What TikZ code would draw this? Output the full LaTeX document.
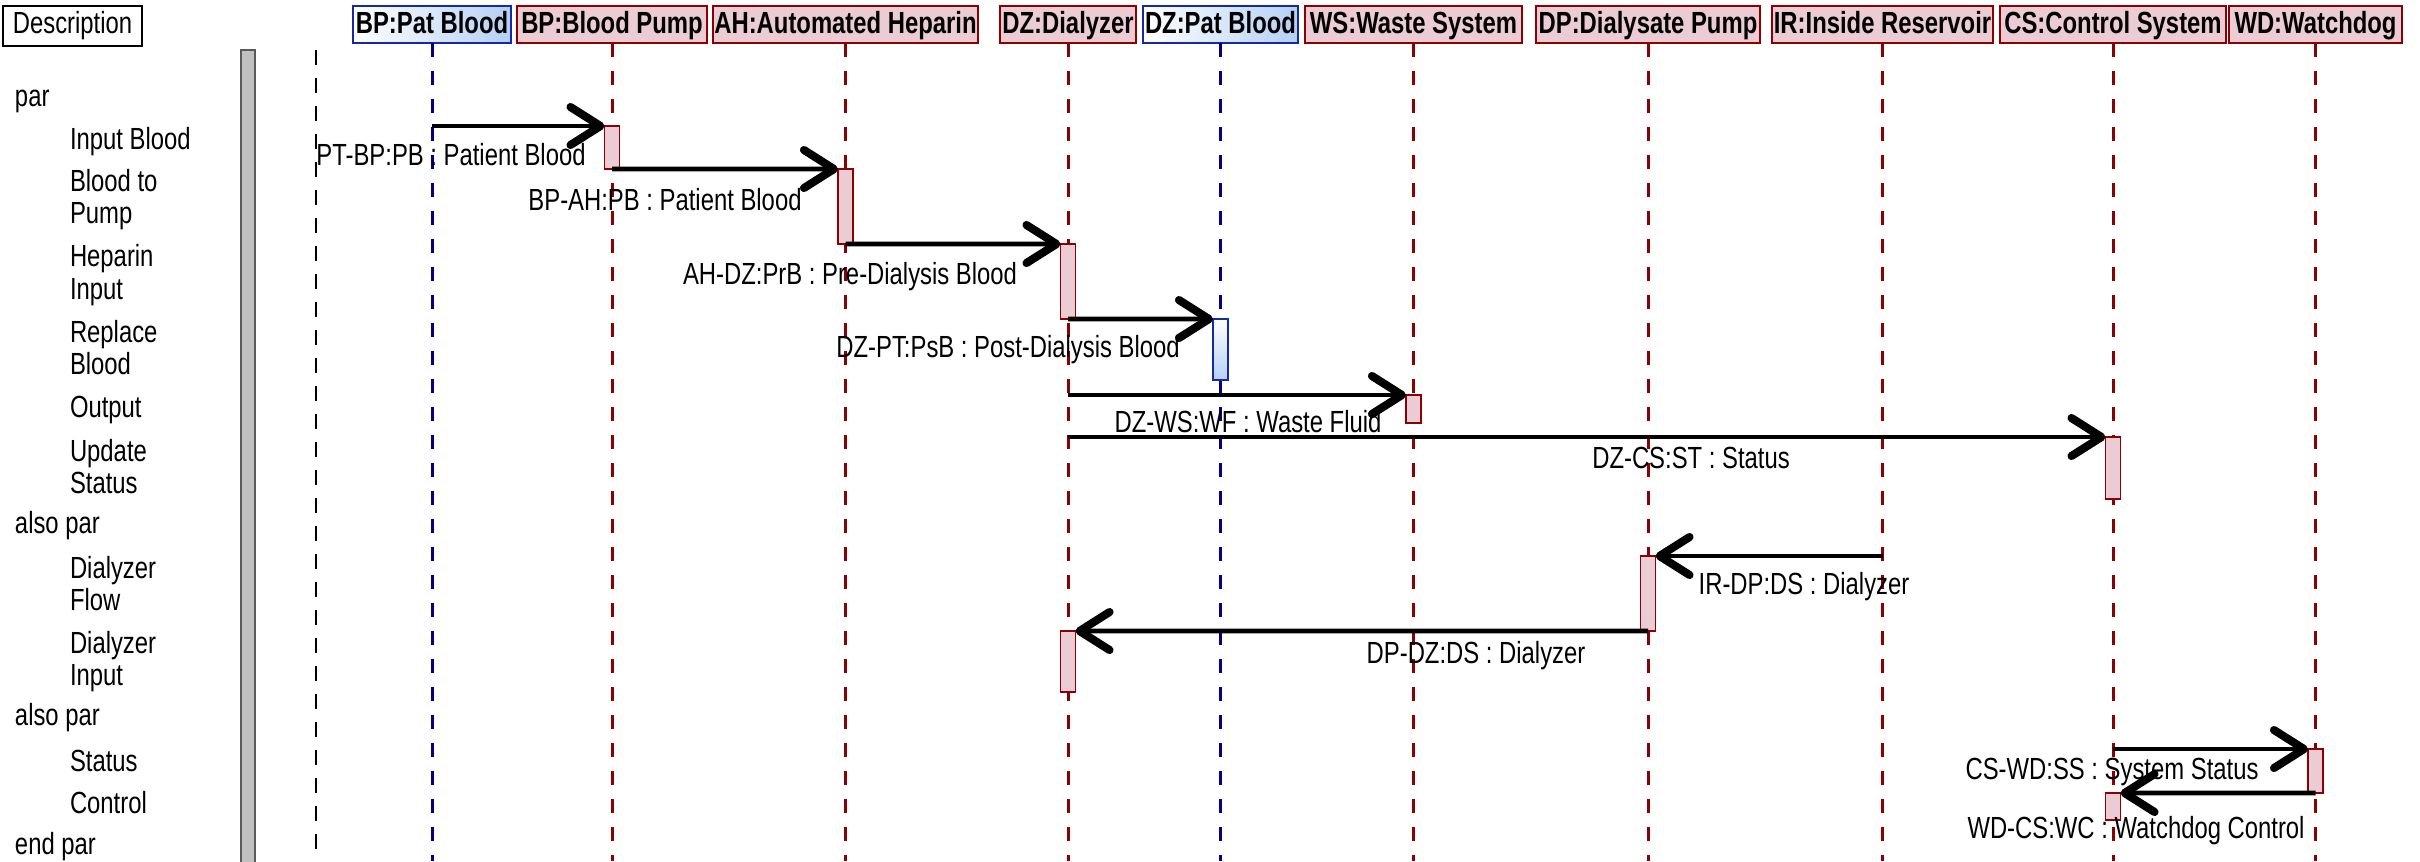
\documentclass[tikz,border=0pt]{standalone}
\usepackage{fontspec}
\setmainfont[FakeStretch=0.78]{Liberation Sans}
\usetikzlibrary{arrows.meta,shadings}

\definecolor{lifered}{RGB}{139,0,0}
\definecolor{actpink}{RGB}{236,204,212}
\definecolor{lifeblue}{RGB}{0,0,139}
\definecolor{boxblue}{RGB}{20,40,170}
\definecolor{shadeblue}{RGB}{180,208,245}
\definecolor{bargray}{RGB}{192,192,192}
\definecolor{bardark}{RGB}{90,90,90}

\begin{document}
\begin{tikzpicture}[x=0.1mm,y=-0.1mm,
  every node/.style={inner sep=0pt, outer sep=0pt, font=\fontsize{8.7}{9.6}\selectfont},
  objbase/.style={line width=0.6pt, minimum height=3.7mm, text height=2.3mm, text depth=0.6mm,
    font=\fontsize{8.7}{9.6}\selectfont\bfseries},
  objred/.style={objbase, draw=lifered, fill=actpink},
  objblue/.style={objbase, draw=boxblue, left color=white, right color=shadeblue},
  lifered/.style={draw=lifered, line width=0.85pt, dash pattern=on 1.4mm off 1.4mm},
  lifeblue/.style={draw=lifeblue, line width=0.85pt, dash pattern=on 1.4mm off 1.4mm},
  lifeblack/.style={draw=black, line width=0.85pt, dash pattern=on 1.5mm off 1.3mm},
  actred/.style={draw=lifered, fill=actpink, line width=0.55pt, minimum width=1.5mm},
  actblue/.style={draw=boxblue, top color=white, bottom color=shadeblue, line width=0.55pt, minimum width=1.5mm},
  msg/.style={line width=1.4pt, -{Straight Barb[length=3.0mm, width=3.8mm, line width=2.3pt, round]}},
  lbl/.style={anchor=base},
  itemtext/.style={anchor=base west},
]
\useasboundingbox (0,0) rectangle (2420,861);
\coordinate (bottom) at (0,861);

% description column
\node[draw, line width=0.5pt, minimum width=13.9mm, minimum height=4mm] (desc) at (72.5,26) {Description};
\draw[draw=bardark, fill=bargray, line width=0.5pt] (241,50) rectangle (255,870);
\draw[lifeblack] (316,50) -- (316,861);

\node[itemtext] (t1) at (15,106) {par};
\node[itemtext] (t2) at (70,149) {Input Blood};
\node[itemtext] (t3a) at (70,191) {Blood to};
\node[itemtext] (t3b) at (70,223) {Pump};
\node[itemtext] (t4a) at (70,266) {Heparin};
\node[itemtext] (t4b) at (70,299) {Input};
\node[itemtext] (t5a) at (70,342) {Replace};
\node[itemtext] (t5b) at (70,374) {Blood};
\node[itemtext] (t6) at (70,417) {Output};
\node[itemtext] (t7a) at (70,461) {Update};
\node[itemtext] (t7b) at (70,493) {Status};
\node[itemtext] (t8) at (15,533) {also par};
\node[itemtext] (t9a) at (70,578) {Dialyzer};
\node[itemtext] (t9b) at (70,610) {Flow};
\node[itemtext] (t10a) at (70,653) {Dialyzer};
\node[itemtext] (t10b) at (70,685) {Input};
\node[itemtext] (t11) at (15,725) {also par};
\node[itemtext] (t12) at (70,771) {Status};
\node[itemtext] (t13) at (70,813) {Control};
\node[itemtext] (t14) at (15,854) {end par};

% participants
\node[objblue, minimum width=15.8mm] (hPB1) at (432,24.5) {BP:Pat Blood};
\node[objred, minimum width=19.0mm] (hBP) at (612,24.5) {BP:Blood Pump};
\node[objred, minimum width=26.5mm] (hAH) at (845.5,24.5) {AH:Automated Heparin};
\node[objred, minimum width=13.6mm] (hDZ) at (1068,24.5) {DZ:Dialyzer};
\node[objblue, minimum width=15.5mm] (hPB2) at (1220.5,24.5) {DZ:Pat Blood};
\node[objred, minimum width=21.7mm] (hWS) at (1413.5,24.5) {WS:Waste System};
\node[objred, minimum width=22.4mm] (hDP) at (1648,24.5) {DP:Dialysate Pump};
\node[objred, minimum width=22.1mm] (hIR) at (1882.5,24.5) {IR:Inside Reservoir};
\node[objred, minimum width=22.6mm] (hCS) at (2113,24.5) {CS:Control System};
\node[objred, minimum width=17.3mm] (hWD) at (2315.5,24.5) {WD:Watchdog};

% lifelines
\draw[lifeblue] (hPB1.south) -- (hPB1.south |- bottom);
\draw[lifered] (hBP.south) -- (hBP.south |- bottom);
\draw[lifered] (hAH.south) -- (hAH.south |- bottom);
\draw[lifered] (hDZ.south) -- (hDZ.south |- bottom);
\draw[lifeblue] (hPB2.south) -- (hPB2.south |- bottom);
\draw[lifered] (hWS.south) -- (hWS.south |- bottom);
\draw[lifered] (hDP.south) -- (hDP.south |- bottom);
\draw[lifered] (hIR.south) -- (hIR.south |- bottom);
\draw[lifered] (hCS.south) -- (hCS.south |- bottom);
\draw[lifered] (hWD.south) -- (hWD.south |- bottom);

% activations
\node[actred, minimum height=4.3mm] (a1) at (hBP |- 0,147.5) {};
\node[actred, minimum height=7.5mm] (a2) at (hAH |- 0,206.5) {};
\node[actred, minimum height=7.5mm] (a3) at (hDZ |- 0,281.5) {};
\node[actblue, minimum height=6.1mm] (a4) at (hPB2 |- 0,349.5) {};
\node[actred, minimum height=2.8mm] (a5) at (hWS |- 0,409) {};
\node[actred, minimum height=6.2mm] (a6) at (hCS |- 0,468) {};
\node[actred, minimum height=7.5mm] (a7) at (hDP |- 0,593.5) {};
\node[actred, minimum height=6.1mm] (a8) at (hDZ |- 0,661.5) {};
\node[actred, minimum height=4.4mm] (a9) at (hWD |- 0,771) {};
\node[actred, minimum height=2.7mm] (a10) at (hCS |- 0,806.5) {};

% messages
\draw[msg] (hPB1 |- a1.north) -- (a1.north west);
\draw[msg] (a1.south) -- (a2.north west);
\draw[msg] (a2.south) -- (a3.north west);
\draw[msg] (a3.south) -- (a4.north west);
\draw[msg] (hDZ |- a5.north) -- (a5.north west);
\draw[msg] (hDZ |- a6.north) -- (a6.north west);
\draw[msg] (hIR |- a7.north) -- (a7.north east);
\draw[msg] (a7.south) -- (a8.north east);
\draw[msg] (hCS |- a9.north) -- (a9.north west);
\draw[msg] (a9.south) -- (a10.north east);

% message labels
\node[lbl] (l1) at (451,165) {PT-BP:PB : Patient Blood};
\node[lbl] (l2) at (665,210) {BP-AH:PB : Patient Blood};
\node[lbl] (l3) at (850,284) {AH-DZ:PrB : Pre-Dialysis Blood};
\node[lbl] (l4) at (1008,357) {DZ-PT:PsB : Post-Dialysis Blood};
\node[lbl] (l5) at (1248,432) {DZ-WS:WF : Waste Fluid};
\node[lbl] (l6) at (1691,468) {DZ-CS:ST : Status};
\node[lbl] (l7) at (1804,594) {IR-DP:DS : Dialyzer};
\node[lbl] (l8) at (1476,663) {DP-DZ:DS : Dialyzer};
\node[lbl] (l9) at (2112,779) {CS-WD:SS : System Status};
\node[lbl] (l10) at (2136,838) {WD-CS:WC : Watchdog Control};
\end{tikzpicture}
\end{document}
